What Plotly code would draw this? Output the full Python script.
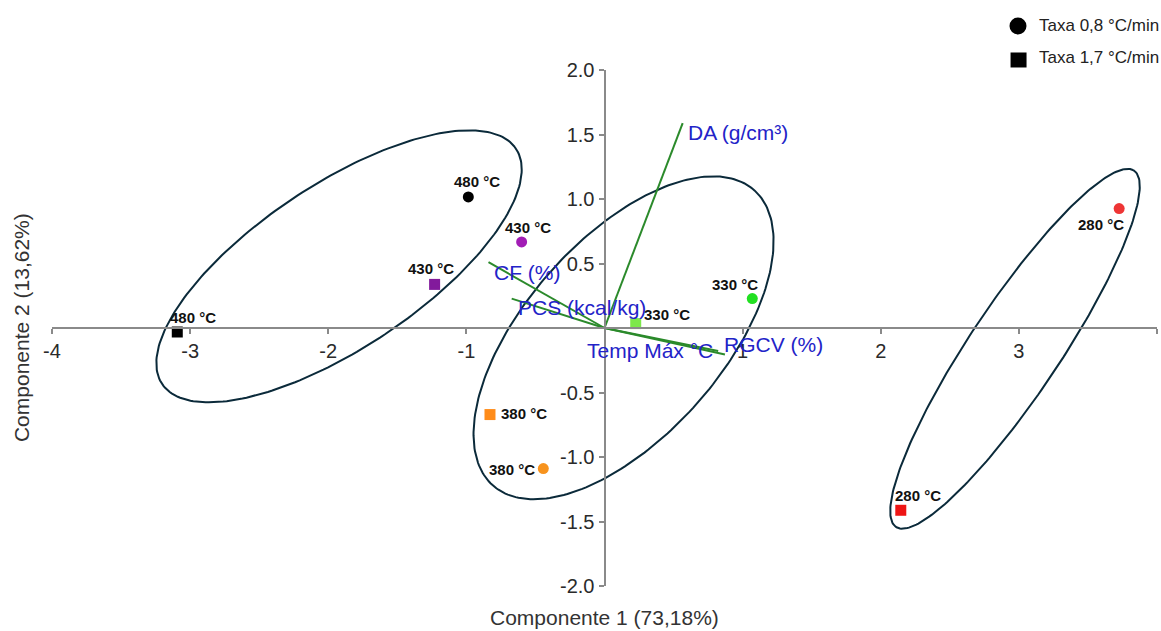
import numpy as np
import plotly.graph_objects as go

# ---- Scores (PCA) ----
temps = ["480 °C", "430 °C", "380 °C", "330 °C", "280 °C"]

# Taxa 0,8 °C/min (circles)
pc1_slow = [-0.986, -0.600, -0.443, 1.070, 3.726]
pc2_slow = [1.016, 0.667, -1.090, 0.228, 0.926]
colors_slow = ["#000000", "#a21db5", "#f7931e", "#22e022", "#ee3535"]

# Taxa 1,7 °C/min (squares)
pc1_fast = [-3.093, -1.230, -0.829, 0.226, 2.145]
pc2_fast = [-0.031, 0.338, -0.671, 0.034, -1.413]
colors_fast = ["#000000", "#821a9c", "#ff8c1a", "#7de84a", "#ee1515"]

# ---- Loadings ----
variables = ["DA (g/cm³)", "CF (%)", "PCS (kcal/kg)", "Temp Máx °C", "RGCV (%)"]
load_x = [0.566, -0.840, -0.672, 0.823, 0.872]
load_y = [1.589, 0.510, 0.228, -0.178, -0.206]

# ---- Group ellipses: centre, semi-axes, rotation (deg) ----
ell_cx = [-1.922, 0.138, 2.972]
ell_cy = [0.478, -0.076, -0.161]
ell_a = [1.573, 1.486, 1.628]
ell_b = [0.622, 0.734, 0.333]
ell_ang = [36.1, 51.7, 58.2]

# label offsets in pixels (dx, dy-up)
off_slow = [(9, 15), (6, 14), (-31, -1), (-17, 14), (-18, -16)]
off_fast = [(16, 15), (-4, 16), (34, 1), (31, 9), (17, 15)]
load_off = [(3, -9, "left"), (4, -10, "left"), (4, -9, "left"), (-3, 0, "right"), (-3, 10, "left")]

FONT = "Liberation Sans, Arial, sans-serif"
AXIS_COLOR = "#8a8a8a"

fig = go.Figure()

# ellipses
t = np.linspace(0, 2 * np.pi, 241)
for cx, cy, a, b, ang in zip(ell_cx, ell_cy, ell_a, ell_b, ell_ang):
    th = np.deg2rad(ang)
    ex = cx + a * np.cos(t) * np.cos(th) - b * np.sin(t) * np.sin(th)
    ey = cy + a * np.cos(t) * np.sin(th) + b * np.sin(t) * np.cos(th)
    fig.add_trace(go.Scatter(x=ex, y=ey, mode="lines",
                             line=dict(color="#0b2a3a", width=2),
                             hoverinfo="skip", showlegend=False))

# loading vectors
for lx, ly in zip(load_x, load_y):
    fig.add_trace(go.Scatter(x=[0, lx], y=[0, ly], mode="lines",
                             line=dict(color="#2b8a2b", width=2),
                             hoverinfo="skip", showlegend=False))

# scores
fig.add_trace(go.Scatter(x=pc1_slow, y=pc2_slow, mode="markers",
                         marker=dict(symbol="circle", size=11, color=colors_slow),
                         text=temps, showlegend=False))
fig.add_trace(go.Scatter(x=pc1_fast, y=pc2_fast, mode="markers",
                         marker=dict(symbol="square", size=11, color=colors_fast),
                         text=temps, showlegend=False))

annotations = []
for xs, ys, offs in ((pc1_slow, pc2_slow, off_slow), (pc1_fast, pc2_fast, off_fast)):
    for x, y, lab, (dx, dy) in zip(xs, ys, temps, offs):
        annotations.append(dict(x=x, y=y, xref="x", yref="y", text=f"<b>{lab}</b>",
                                showarrow=False, xshift=dx, yshift=dy,
                                font=dict(family=FONT, size=15, color="#111111")))

for lx, ly, name, (dx, dy, anc) in zip(load_x, load_y, variables, load_off):
    annotations.append(dict(x=lx, y=ly, xref="x", yref="y", text=name,
                            showarrow=False, xanchor=anc, xshift=dx, yshift=dy,
                            font=dict(family=FONT, size=21, color="#2323c8")))

# axis titles
annotations.append(dict(x=0.5, y=-0.062, xref="paper", yref="paper",
                        text="Componente 1 (73,18%)", showarrow=False,
                        yanchor="middle",
                        font=dict(family=FONT, size=21, color="#333333")))
annotations.append(dict(x=-0.028, y=0.5, xref="paper", yref="paper",
                        text="Componente 2 (13,62%)", showarrow=False, textangle=-90,
                        xanchor="center",
                        font=dict(family=FONT, size=21, color="#333333")))

# legend entries
annotations.append(dict(x=0.8917, y=1.0853, xref="paper", yref="paper",
                        text="Taxa 0,8 °C/min", showarrow=False,
                        xanchor="left", yanchor="middle",
                        font=dict(family=FONT, size=17, color="#222222")))
annotations.append(dict(x=0.8917, y=1.0233, xref="paper", yref="paper",
                        text="Taxa 1,7 °C/min", showarrow=False,
                        xanchor="left", yanchor="middle",
                        font=dict(family=FONT, size=17, color="#222222")))

shapes = [
    dict(type="circle", xref="paper", yref="paper", xsizemode="pixel", ysizemode="pixel",
         xanchor=0.8742, yanchor=1.0853, x0=-8.5, x1=8.5, y0=-8.5, y1=8.5,
         fillcolor="#000000", line=dict(width=0)),
    dict(type="rect", xref="paper", yref="paper", xsizemode="pixel", ysizemode="pixel",
         xanchor=0.8747, yanchor=1.0194, x0=-8, x1=8, y0=-7.5, y1=7.5,
         fillcolor="#000000", line=dict(width=0)),
]

x_ticks = [-4, -3, -2, -1, 1, 2, 3, 4]
y_ticks = [2.0, 1.5, 1.0, 0.5, -0.5, -1.0, -1.5, -2.0]

fig.update_layout(
    width=1161, height=631,
    margin=dict(l=52, r=4, t=70, b=45),
    paper_bgcolor="white", plot_bgcolor="white",
    showlegend=False,
    annotations=annotations,
    shapes=shapes,
    xaxis=dict(range=[-4, 4], anchor="free", position=0.5,
               tickvals=x_ticks, ticktext=[str(v) for v in x_ticks],
               showgrid=False, zeroline=False, showline=True,
               linecolor=AXIS_COLOR, linewidth=2,
               ticks="outside", ticklen=5, tickcolor=AXIS_COLOR, tickwidth=1.5,
               tickfont=dict(family=FONT, size=20, color="#2a2a2a")),
    yaxis=dict(range=[-2, 2], anchor="free", position=0.5,
               tickvals=y_ticks, ticktext=[f"{v:.1f}" for v in y_ticks],
               showgrid=False, zeroline=False, showline=True,
               linecolor=AXIS_COLOR, linewidth=2,
               ticks="outside", ticklen=5, tickcolor=AXIS_COLOR, tickwidth=1.5,
               tickfont=dict(family=FONT, size=20, color="#2a2a2a")),
)

fig.write_html("out.html")
